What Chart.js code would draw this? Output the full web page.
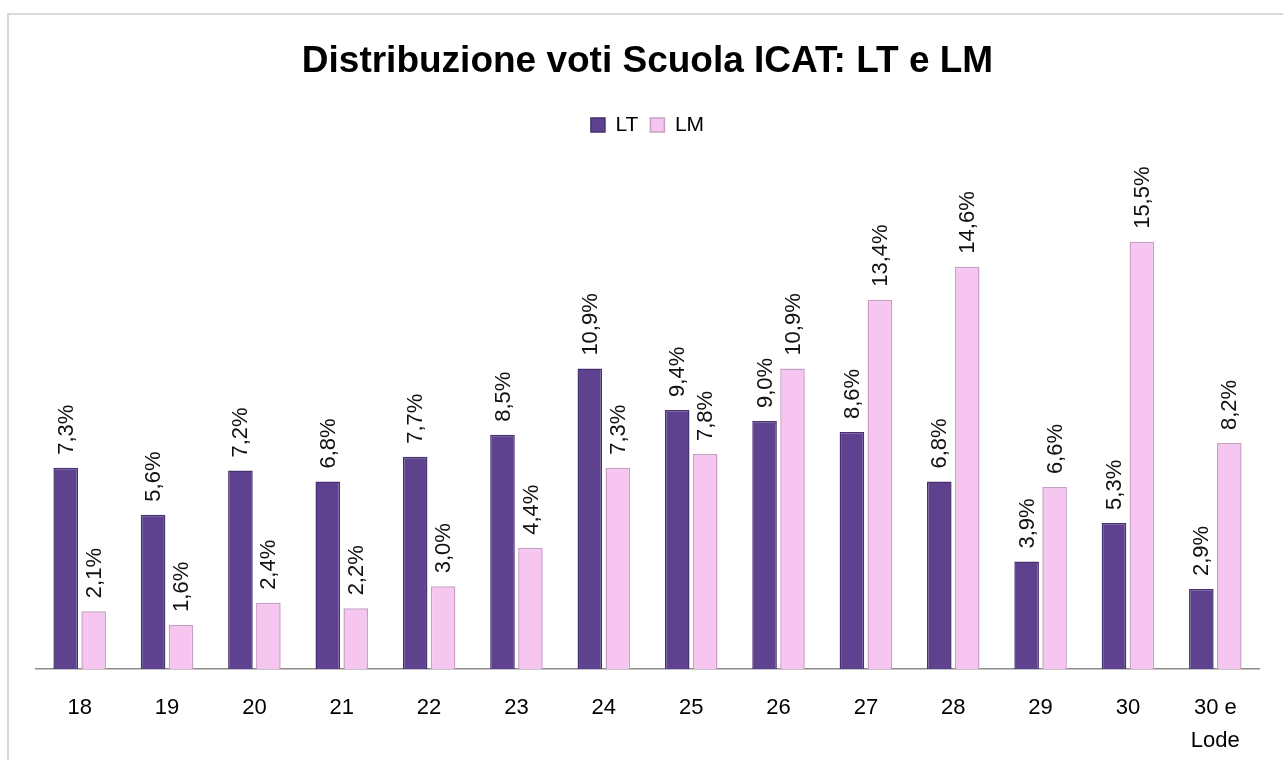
<!DOCTYPE html>
<html>
<head>
<meta charset="utf-8">
<script src="https://cdn.jsdelivr.net/npm/chart.js@4/dist/chart.umd.min.js"></script>
<style>
  html, body { margin: 0; padding: 0; background: #fff; overflow: hidden; }
  #frame { position: absolute; left: 7px; top: 13px; width: 1300px; height: 800px; border: 2px solid #d9d9d9; }
  #grafica { position: absolute; left: 0; top: 0; }
</style>
</head>
<body>
<div id="frame"></div>
<canvas id="grafica" width="1283" height="775"></canvas>
<script>
let categorie = ["18", "19", "20", "21", "22", "23", "24", "25", "26", "27", "28", "29", "30", ["30 e", "Lode"]];
let votiLT = [7.3, 5.6, 7.2, 6.8, 7.7, 8.5, 10.9, 9.4, 9.0, 8.6, 6.8, 3.9, 5.3, 2.9];
let votiLM = [2.1, 1.6, 2.4, 2.2, 3.0, 4.4, 7.3, 7.8, 10.9, 13.4, 14.6, 6.6, 15.5, 8.2];

// etichette ruotate sopra le barre
const etichette = {
    id: "etichette",
    afterDatasetsDraw(chart) {
        let ctx = chart.ctx;
        ctx.save();
        ctx.font = "22px 'Liberation Sans', Arial, sans-serif";
        ctx.fillStyle = "#111";
        ctx.textAlign = "left";
        ctx.textBaseline = "middle";
        chart.data.datasets.forEach((ds, i) => {
            chart.getDatasetMeta(i).data.forEach((bar, j) => {
                let testo = ds.data[j].toFixed(1).replace(".", ",") + "%";
                ctx.save();
                ctx.translate(bar.x + 1, bar.y - 13);
                ctx.rotate(-Math.PI / 2);
                ctx.fillText(testo, 0, 0);
                ctx.restore();
            });
        });
        ctx.restore();
    }
};

let ctx = document.getElementById("grafica").getContext("2d");

let grafica = new Chart(ctx, {
    type: "bar",
    data: {
        labels: categorie,
        datasets: [{
            label: "LT",
            data: votiLT,
            backgroundColor: "#5e4290",
            borderColor: "#47306e",
            borderWidth: 1.5,
            borderSkipped: "bottom",
            categoryPercentage: 0.64,
            barPercentage: 0.88
        }, {
            label: "LM",
            data: votiLM,
            backgroundColor: "#f6c6f1",
            borderColor: "#c79fc4",
            borderWidth: 1.5,
            borderSkipped: "bottom",
            categoryPercentage: 0.64,
            barPercentage: 0.88
        }]
    },
    plugins: [etichette],
    options: {
        responsive: false,
        animation: false,
        layout: { padding: { left: 36, right: 24, top: 13, bottom: 4 } },
        plugins: {
            title: {
                display: true,
                text: "Distribuzione voti Scuola ICAT: LT e LM",
                color: "#000",
                font: { family: "'Liberation Sans', Arial, sans-serif", size: 37, weight: "bold" },
                padding: { top: 27, bottom: 18 }
            },
            legend: {
                labels: {
                    color: "#000",
                    font: { family: "'Liberation Sans', Arial, sans-serif", size: 21 },
                    boxWidth: 14,
                    boxHeight: 14,
                    padding: 12
                }
            },
            tooltip: { enabled: false }
        },
        scales: {
            x: {
                grid: { display: false },
                border: { display: true, color: "#8c8c8c", width: 1.5 },
                ticks: {
                    color: "#000",
                    maxRotation: 0,
                    padding: 14,
                    font: { family: "'Liberation Sans', Arial, sans-serif", size: 22, lineHeight: 1.5 }
                }
            },
            y: {
                display: false,
                min: 0,
                max: 19.0
            }
        }
    }
});
</script>
</body>
</html>
